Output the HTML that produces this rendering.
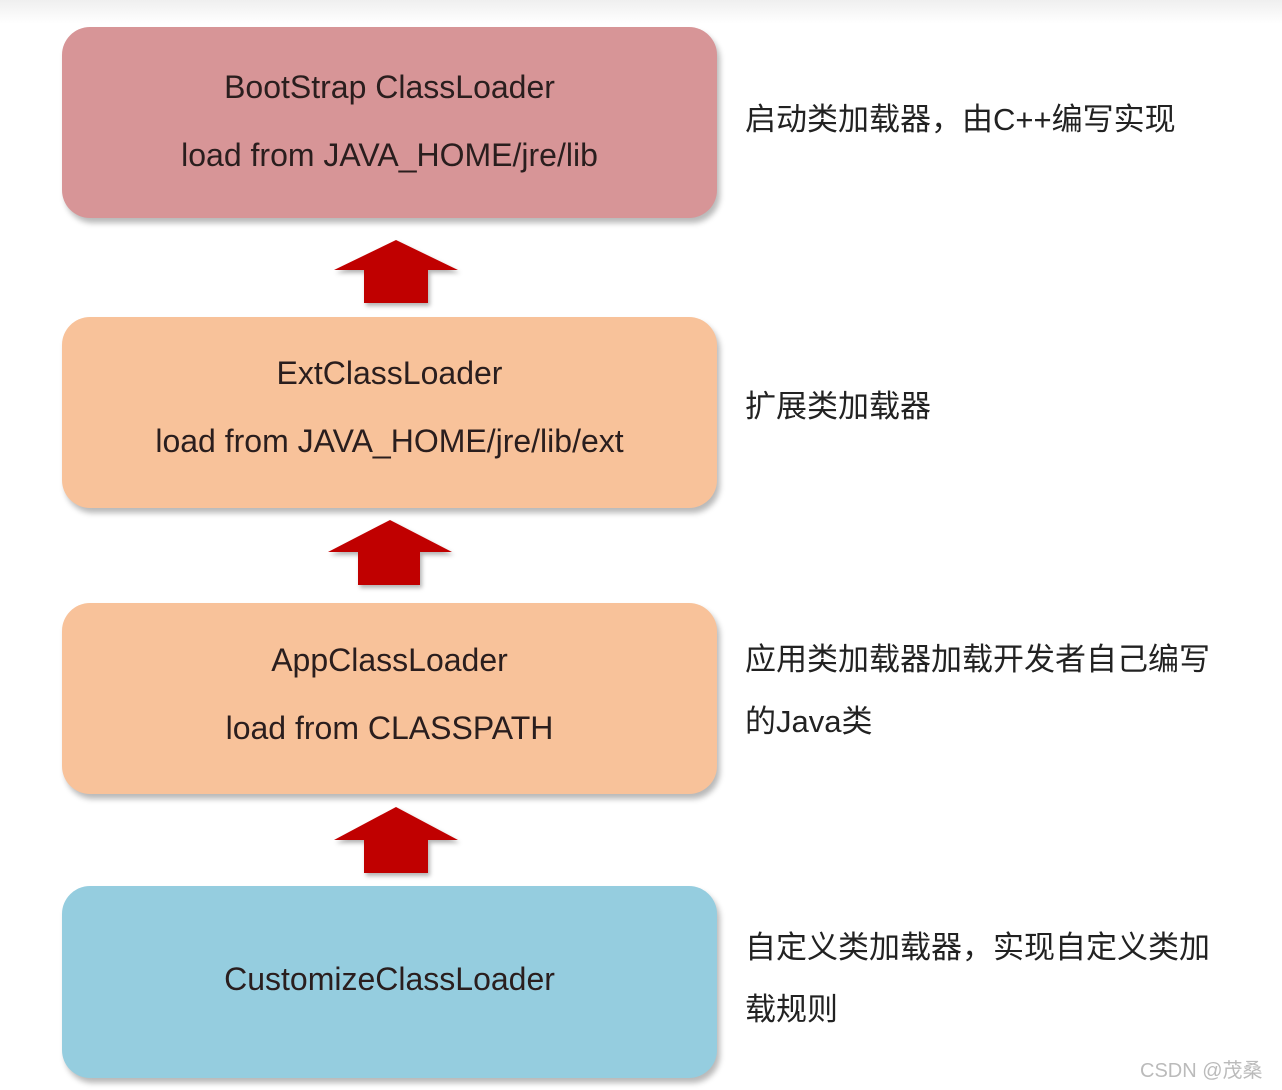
<!DOCTYPE html>
<html><head><meta charset="utf-8"><style>
body{margin:0;width:1282px;height:1090px;background:#fff;position:relative;overflow:hidden;font-family:"Liberation Sans","Noto Sans CJK SC",sans-serif;}
.top{position:absolute;left:0;top:0;width:1282px;height:24px;background:linear-gradient(#efefef,#fff);}
.box{position:absolute;left:62px;width:655px;border-radius:28px;box-shadow:3px 5px 6px rgba(0,0,0,0.28);color:#2a1e1e;font-size:32px;}
.box div{position:absolute;left:0;width:100%;text-align:center;line-height:40px;}
.r{position:absolute;left:745px;font-size:31px;color:#222;line-height:40px;white-space:nowrap;}
svg{position:absolute;left:0;top:0;}
</style></head><body>
<div class="top"></div>
<div class="box" style="top:27px;height:191px;background:#d79597"><div style="top:40px">BootStrap ClassLoader</div><div style="top:108px">load from JAVA_HOME/jre/lib</div></div>
<div class="box" style="top:317px;height:191px;background:#f8c29a"><div style="top:36px">ExtClassLoader</div><div style="top:104px">load from JAVA_HOME/jre/lib/ext</div></div>
<div class="box" style="top:603px;height:191px;background:#f8c29a"><div style="top:37px">AppClassLoader</div><div style="top:105px">load from CLASSPATH</div></div>
<div class="box" style="top:886px;height:192px;background:#95cddf"><div style="top:73px">CustomizeClassLoader</div></div>
<svg width="1282" height="1090">
<defs><filter id="s"><feDropShadow dx="2" dy="3" stdDeviation="2" flood-opacity="0.3"/></filter></defs>
<g fill="#c00000" filter="url(#s)">
<polygon points="396,240 458,270 428,270 428,303 364,303 364,270 334,270"/>
<polygon points="390,520 452,552 420,552 420,585 358,585 358,552 328,552"/>
<polygon points="396,807 458,840 428,840 428,873 364,873 364,840 334,840"/>
</g></svg>
<div class="r" style="top:100px">启动类加载器，由C++编写实现</div>
<div class="r" style="top:387px">扩展类加载器</div>
<div class="r" style="top:640px">应用类加载器加载开发者自己编写</div>
<div class="r" style="top:702px">的Java类</div>
<div class="r" style="top:928px">自定义类加载器，实现自定义类加</div>
<div class="r" style="top:990px">载规则</div>
<div style="position:absolute;left:1140px;top:1054px;font-size:20px;color:#bbb">CSDN @茂桑</div>
</body></html>
